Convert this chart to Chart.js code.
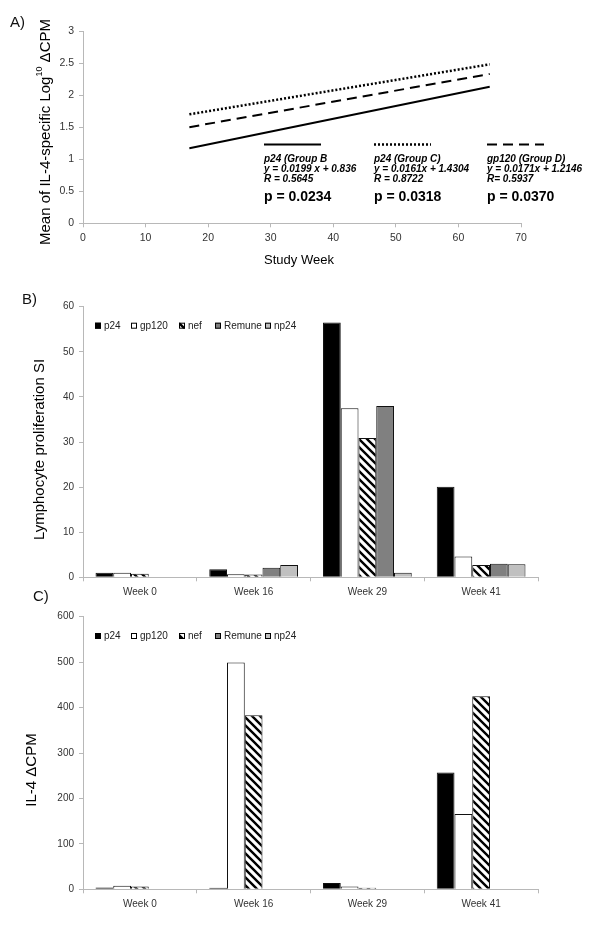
<!DOCTYPE html>
<html>
<head>
<meta charset="utf-8">
<script src="https://cdn.jsdelivr.net/npm/chart.js@4.4.1/dist/chart.umd.min.js"></script>
<style>
  html, body { margin: 0; padding: 0; background: #fff; }
  #wrap { position: relative; width: 600px; height: 927px; font-family: 'Liberation Sans', Arial, sans-serif; }
  .panel { position: absolute; left: 0; width: 600px; }
  .tag { position: absolute; font-size: 15px; line-height: 15px; color: #111; }
</style>
</head>
<body>
<div id="wrap">
  <div class="panel" style="top:0;height:280px"><canvas id="chartA"></canvas></div>
  <div class="panel" style="top:280px;height:320px"><canvas id="chartB"></canvas></div>
  <div class="panel" style="top:600px;height:327px"><canvas id="chartC"></canvas></div>
  <div class="tag" style="left:10px;top:14px">A)</div>
  <div class="tag" style="left:22px;top:291px">B)</div>
  <div class="tag" style="left:33px;top:588px">C)</div>
</div>
<script>
const FONT = "'Liberation Sans', Arial, sans-serif";

// Panel A - regression lines, end points
const studyWeeks = [17, 65];
const p24GroupB = [1.17, 2.13];
const p24GroupC = [1.70, 2.48];
const gp120GroupD = [1.50, 2.33];
const regressionNotes = [
  ['p24 (Group B', 'y = 0.0199 x + 0.836', 'R = 0.5645', 'p = 0.0234'],
  ['p24 (Group C)', 'y = 0.0161x + 1.4304', 'R = 0.8722', 'p = 0.0318'],
  ['gp120 (Group D)', 'y = 0.0171x + 1.2146', 'R= 0.5937', 'p = 0.0370']
];

// Panels B and C
const weekLabels = ['Week 0', 'Week 16', 'Week 29', 'Week 41'];
const antigens = ['p24', 'gp120', 'nef', 'Remune', 'np24'];
const siP24 = [1.0, 1.8, 56.5, 20.1];
const siGp120 = [1.0, 0.65, 37.5, 4.6];
const siNef = [0.8, 0.6, 30.9, 2.7];
const siRemune = [null, 2.1, 38.0, 3.0];
const siNp24 = [null, 2.7, 1.0, 2.9];
const cpmP24 = [4, 3.5, 14, 257];
const cpmGp120 = [8, 499, 6, 166];
const cpmNef = [6, 383, 3.5, 425];
const cpmRemune = [null, null, null, null];
const cpmNp24 = [null, null, null, null];

function hatch() {
  const c = document.createElement('canvas');
  c.width = 8; c.height = 8;
  const g = c.getContext('2d');
  g.fillStyle = '#fff';
  g.fillRect(0, 0, 8, 8);
  g.strokeStyle = '#000';
  g.lineWidth = 2.4;
  g.beginPath();
  g.moveTo(-2, -2); g.lineTo(10, 10);
  g.moveTo(-6, 2); g.lineTo(2, 10);
  g.moveTo(6, -2); g.lineTo(10, 2);
  g.stroke();
  return c.getContext('2d').createPattern(c, 'repeat');
}
const nefFill = hatch();
const barFills = ['#000000', '#ffffff', nefFill, '#808080', '#c0c0c0'];

const axisGrey = '#b8b8b8';
const tickText = '#333';

// draws rotated/free text in canvas pixels
const decor = {
  id: 'decor',
  afterDraw(chart, args, opts) {
    const ctx = chart.ctx;
    (opts.texts || []).forEach(t => {
      ctx.save();
      ctx.translate(t.x, t.y);
      if (t.rotate) ctx.rotate(t.rotate);
      ctx.font = t.font;
      ctx.fillStyle = t.color || '#000';
      ctx.textAlign = 'center';
      ctx.textBaseline = 'middle';
      if (t.parts) {
        let w = 0;
        t.parts.forEach(p => { ctx.font = p.font; w += ctx.measureText(p.text).width; });
        let x = -w / 2;
        ctx.textAlign = 'left';
        t.parts.forEach(p => {
          ctx.font = p.font;
          ctx.fillText(p.text, x, p.dy || 0);
          x += ctx.measureText(p.text).width;
        });
      } else {
        ctx.fillText(t.text, 0, 0);
      }
      ctx.restore();
    });
  }
};

// legend for the regression lines plus the equation notes
const notes = {
  id: 'notes',
  afterDraw(chart, args, opts) {
    const ctx = chart.ctx;
    ctx.save();
    chart.data.datasets.forEach((ds, i) => {
      const x = opts.xs[i];
      ctx.strokeStyle = '#000';
      ctx.lineWidth = ds.borderWidth;
      ctx.setLineDash(ds.borderDash || []);
      ctx.beginPath();
      ctx.moveTo(x, opts.lineY);
      ctx.lineTo(x + 57, opts.lineY);
      ctx.stroke();
      ctx.setLineDash([]);
      ctx.fillStyle = '#000';
      ctx.textBaseline = 'middle';
      ctx.textAlign = 'left';
      const lines = regressionNotes[i];
      ctx.font = 'italic bold 10px ' + FONT;
      for (let k = 0; k < 3; k++) ctx.fillText(lines[k], x, opts.textY[k]);
      ctx.font = 'bold 14px ' + FONT;
      ctx.fillText(lines[3], x, opts.textY[3]);
    });
    ctx.restore();
  }
};

const barLegend = {
  id: 'barLegend',
  afterDraw(chart, args, opts) {
    const ctx = chart.ctx;
    ctx.save();
    ctx.font = '10px ' + FONT;
    ctx.textBaseline = 'middle';
    chart.data.datasets.forEach((ds, i) => {
      const x = opts.xs[i], y = opts.y;
      ctx.fillStyle = ds.backgroundColor;
      ctx.fillRect(x, y - 3, 6, 6);
      ctx.strokeStyle = '#000';
      ctx.lineWidth = 1;
      ctx.strokeRect(x + 0.5, y - 2.5, 5, 5);
      ctx.fillStyle = '#222';
      ctx.fillText(ds.label, x + 9, y + 0.5);
    });
    ctx.restore();
  }
};

function lineSet(label, ys, dash, width) {
  return {
    label: label,
    data: studyWeeks.map((w, i) => ({ x: w, y: ys[i] })),
    showLine: true,
    borderColor: '#000',
    borderWidth: width,
    borderDash: dash,
    pointRadius: 0,
    fill: false
  };
}

new Chart(document.getElementById('chartA'), {
  type: 'scatter',
  data: {
    datasets: [
      lineSet('p24 (Group B)', p24GroupB, [], 2),
      lineSet('p24 (Group C)', p24GroupC, [2, 2], 2.5),
      lineSet('gp120 (Group D)', gp120GroupD, [10, 6], 2)
    ]
  },
  options: {
    responsive: true,
    maintainAspectRatio: false,
    animation: false,
    layout: { padding: { left: 0, right: 79, top: 31, bottom: 0 } },
    plugins: {
      legend: { display: false },
      tooltip: { enabled: false },
      notes: { xs: [264, 374, 487], lineY: 144.5, textY: [159, 169, 179, 197] },
      decor: {
        texts: [
          { x: 46, y: 132, rotate: -Math.PI / 2, font: '15px ' + FONT, parts: [
            { text: 'Mean of IL-4-specific Log', font: '15px ' + FONT },
            { text: '10', font: '9px ' + FONT, dy: -6 },
            { text: ' \u0394CPM', font: '15px ' + FONT }
          ] },
          { x: 299, y: 260, font: '13px ' + FONT, text: 'Study Week' }
        ]
      }
    },
    scales: {
      x: {
        type: 'linear', min: 0, max: 70,
        afterFit(s) { s.height = 56.7; },
        border: { display: true, color: axisGrey },
        grid: { drawOnChartArea: false, tickLength: 4, color: axisGrey },
        ticks: { stepSize: 10, color: tickText, padding: 5, font: { family: FONT, size: 10.5 } }
      },
      y: {
        min: 0, max: 3,
        afterFit(s) { s.width = 83; },
        border: { display: true, color: axisGrey },
        grid: { drawOnChartArea: false, tickLength: 4, color: axisGrey },
        ticks: {
          stepSize: 0.5, color: tickText, padding: 5, font: { family: FONT, size: 10.5 },
          callback: v => String(v)
        }
      }
    }
  },
  plugins: [notes, decor]
});

function barChart(id, series, maxY, step, axisHeight, top, legendY, title) {
  return new Chart(document.getElementById(id), {
    type: 'bar',
    data: {
      labels: weekLabels,
      datasets: antigens.map((name, i) => ({
        label: name,
        data: series[i],
        backgroundColor: barFills[i],
        borderColor: '#111',
        borderWidth: 1,
        categoryPercentage: 0.78,
        barPercentage: 1
      }))
    },
    options: {
      responsive: true,
      maintainAspectRatio: false,
      animation: false,
      layout: { padding: { left: 0, right: 62, top: top, bottom: 0 } },
      plugins: {
        legend: { display: false },
        tooltip: { enabled: false },
        barLegend: { xs: [95, 131, 179, 215, 265], y: legendY },
        decor: { texts: [title] }
      },
      scales: {
        x: {
          afterFit(s) { s.height = axisHeight; },
          border: { display: true, color: axisGrey },
          grid: { drawOnChartArea: false, tickLength: 4, color: axisGrey, offset: true },
          ticks: { color: tickText, padding: 5, font: { family: FONT, size: 10 } }
        },
        y: {
          min: 0, max: maxY,
          afterFit(s) { s.width = 83; },
          border: { display: true, color: axisGrey },
          grid: { drawOnChartArea: false, tickLength: 4, color: axisGrey },
          ticks: { stepSize: step, color: tickText, padding: 5, font: { family: FONT, size: 10 } }
        }
      }
    },
    plugins: [barLegend, decor]
  });
}

barChart('chartB', [siP24, siGp120, siNef, siRemune, siNp24], 60, 10, 22.7, 26.7, 45.7,
  { x: 40, y: 169.5, rotate: -Math.PI / 2, font: '15px ' + FONT, text: 'Lymphocyte proliferation SI' });
barChart('chartC', [cpmP24, cpmGp120, cpmNef, cpmRemune, cpmNp24], 600, 100, 37.7, 16.7, 36,
  { x: 32, y: 170, rotate: -Math.PI / 2, font: '15px ' + FONT, text: 'IL-4 \u0394CPM' });
</script>
</body>
</html>
